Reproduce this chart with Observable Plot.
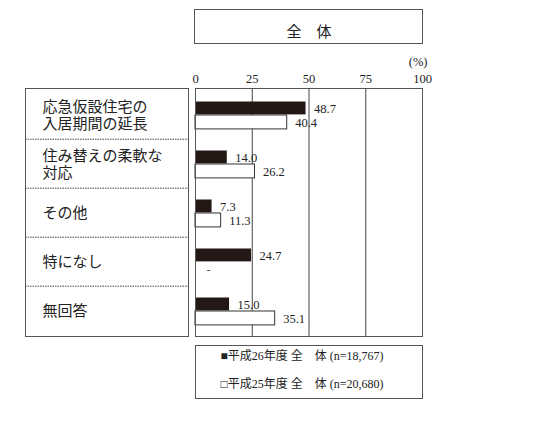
<!DOCTYPE html>
<html><head><meta charset="utf-8">
<script src="https://cdn.jsdelivr.net/npm/d3@7"></script>
<script src="https://cdn.jsdelivr.net/npm/@observablehq/plot@0.6"></script>
<style>body{margin:0;background:#fff}</style>
</head><body>
<div id="chart"></div>
<script>
const categories = ["応急仮設住宅の\n入居期間の延長", "住み替えの柔軟な\n対応", "その他", "特になし", "無回答"];
const valuesH26 = [48.7, 14.0, 7.3, 24.7, 15.0];
const valuesH25 = [40.4, 26.2, 11.3, null, 35.1];
const xTicks = [0, 25, 50, 75, 100];
const gridTicks = [25, 50, 75];
const title = "全　体";
const legendH26 = "■平成26年度 全　体 (n=18,767)";
const legendH25 = "□平成25年度 全　体 (n=20,680)";

const d26 = categories.map((c, i) => ({c, v: valuesH26[i]}));
const d25 = categories.map((c, i) => ({c, v: valuesH25[i]}));
const d25ok = d25.filter(d => d.v != null);
const d25na = d25.filter(d => d.v == null);
const fmt = v => v.toFixed(1);
const FONT = "'Liberation Serif', 'Noto Sans CJK JP', serif";
const LINE = "#555";

const chart = Plot.plot({
  width: 537, height: 431,
  marginLeft: 195, marginRight: 115, marginTop: 88, marginBottom: 95,
  style: {fontFamily: FONT, fontSize: "12px", background: "#fff", color: "#222"},
  x: {domain: [0, 100]},
  y: {domain: categories, padding: 0, axis: null},
  marks: [
    Plot.ruleX(gridTicks, {stroke: "#444"}),
    Plot.barX(d26, {x: "v", y: "c", fill: "#231815", insetTop: 11.5, insetBottom: 24.6}),
    Plot.barX(d25ok, {x: "v", y: "c", fill: "#fff", stroke: "#333", strokeWidth: 1, insetTop: 25, insetBottom: 10.1}),
    Plot.text(d26, {x: "v", y: "c", text: d => fmt(d.v), dx: 8, dy: -6, textAnchor: "start", fontSize: 12.5, fill: "#222"}),
    Plot.text(d25ok, {x: "v", y: "c", text: d => fmt(d.v), dx: 8, dy: 8, textAnchor: "start", fontSize: 12.5, fill: "#222"}),
    Plot.text(d25na, {x: () => 0, y: "c", text: () => "-", dx: 13, dy: 8, fontSize: 12.5, fill: "#555"}),
    Plot.axisX(xTicks, {anchor: "top", tickSize: 0, tickPadding: 6, label: null, fontSize: 12.5}),
    Plot.text(["(%)"], {frameAnchor: "top-right", dx: 5, dy: -31, textAnchor: "end", fontSize: 12.5}),
    Plot.frame({stroke: LINE}),
    // category label box
    Plot.frame({stroke: LINE, insetLeft: -170, insetRight: 234}),
    Plot.ruleY(categories.slice(1), {y: d => d, dy: -24.8, insetLeft: -170, insetRight: 234, stroke: "#444", strokeDasharray: "1.5,1"}),
    Plot.text(categories, {y: d => d, text: d => d, frameAnchor: "left", dx: -153, textAnchor: "start", fontSize: 15, lineHeight: 1.1, fill: "#222"}),
    // title box
    Plot.frame({stroke: LINE, insetTop: -79, insetBottom: 293, insetLeft: -1}),
    Plot.text([title], {frameAnchor: "top", dy: -62, fontSize: 15, fill: "#222"}),
    // legend box
    Plot.frame({stroke: LINE, insetTop: 257, insetBottom: -62}),
    Plot.text([legendH26], {frameAnchor: "bottom-left", dx: 25, dy: 23, textAnchor: "start", fontSize: 12, fill: "#222"}),
    Plot.text([legendH25], {frameAnchor: "bottom-left", dx: 25, dy: 51, textAnchor: "start", fontSize: 12, fill: "#222"})
  ]
});
document.getElementById("chart").append(chart);
</script>
</body></html>
